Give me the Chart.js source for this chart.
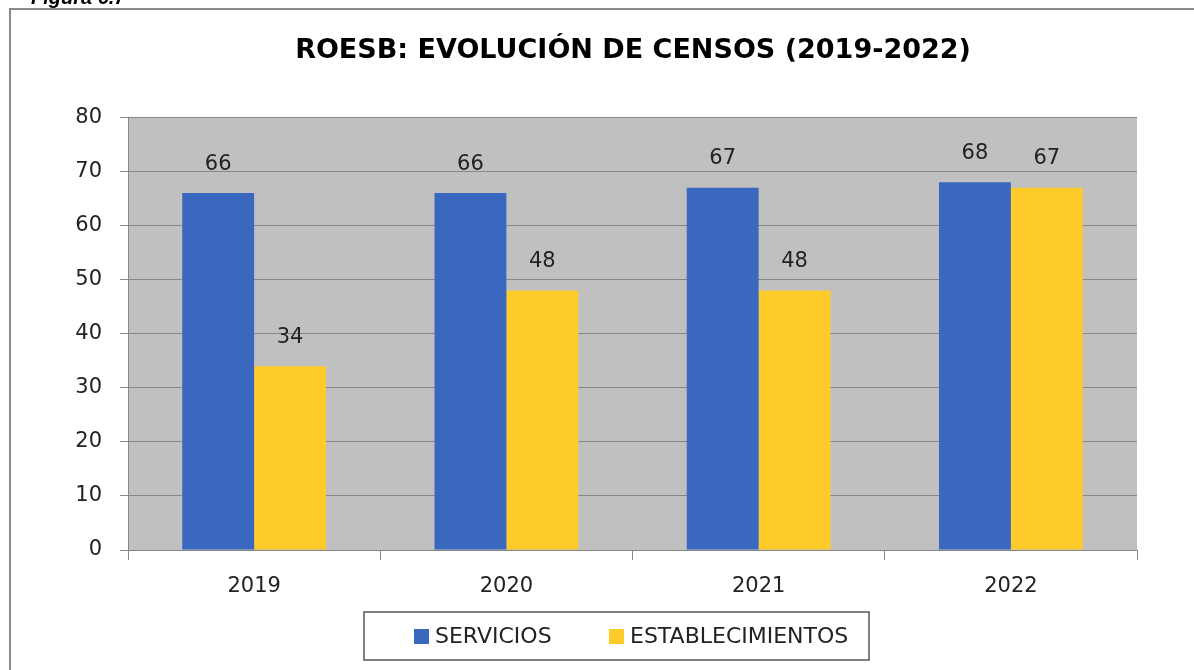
<!DOCTYPE html>
<html>
<head>
<meta charset="utf-8">
<script src="https://cdn.jsdelivr.net/npm/chart.js@4/dist/chart.umd.min.js"></script>
<style>
  html, body { margin: 0; padding: 0; background: #fff; }
  canvas { display: block; }
</style>
</head>
<body>
<canvas id="censosChart" width="1194" height="670"></canvas>
<script>
// Data
const years = ["2019", "2020", "2021", "2022"];
const servicios = [66, 66, 67, 68];
const establecimientos = [34, 48, 48, 67];
const yTicks = [0, 10, 20, 30, 40, 50, 60, 70, 80];

const blue = "#3a68be";
const yellow = "#ffcb2a";
const gridGrey = "#878787";
const textFont = "'DejaVu Sans', sans-serif";

// grey plot area, outer frame and cut-off caption
const backgroundPlugin = {
  id: "background",
  beforeDraw(chart) {
    const ctx = chart.ctx;
    const a = chart.chartArea;
    ctx.save();
    ctx.fillStyle = "#fff";
    ctx.fillRect(0, 0, chart.width, chart.height);
    ctx.fillStyle = "#c0c0c0";
    ctx.fillRect(a.left, a.top, a.right - a.left, a.bottom - a.top);
    // frame around the figure (only top and left edges visible)
    ctx.strokeStyle = "#8a8a8a";
    ctx.lineWidth = 2;
    ctx.beginPath();
    ctx.moveTo(10, chart.height);
    ctx.lineTo(10, 9);
    ctx.lineTo(chart.width, 9);
    ctx.stroke();
    // caption above the frame
    ctx.fillStyle = "#000";
    ctx.font = "italic bold 20px 'Liberation Sans', Arial, sans-serif";
    ctx.textBaseline = "alphabetic";
    ctx.fillText("Figura 6.7", 31, 4);
    ctx.restore();
  }
};

// value labels above the bars
const valueLabels = {
  id: "valueLabels",
  afterDatasetsDraw(chart) {
    const ctx = chart.ctx;
    ctx.save();
    ctx.fillStyle = "#222";
    ctx.font = "21px " + textFont;
    ctx.textAlign = "center";
    ctx.textBaseline = "middle";
    chart.data.datasets.forEach((ds, i) => {
      chart.getDatasetMeta(i).data.forEach((bar, j) => {
        ctx.fillText(ds.data[j], bar.x, bar.y - 29);
      });
    });
    ctx.restore();
  }
};

// boxed legend below the axis
const boxedLegend = {
  id: "boxedLegend",
  afterDraw(chart) {
    const ctx = chart.ctx;
    ctx.save();
    ctx.strokeStyle = "#555";
    ctx.lineWidth = 1.5;
    ctx.strokeRect(364, 612, 505, 48);
    ctx.font = "22px " + textFont;
    ctx.textBaseline = "middle";
    const starts = [414, 609];
    chart.data.datasets.forEach((ds, i) => {
      const x = starts[i];
      ctx.fillStyle = ds.backgroundColor;
      ctx.fillRect(x, 629, 15, 15);
      ctx.fillStyle = "#222";
      ctx.fillText(ds.label, x + 21, 637);
    });
    ctx.restore();
  }
};

const ctx = document.getElementById("censosChart").getContext("2d");

const censosChart = new Chart(ctx, {
  type: "bar",
  data: {
    labels: years,
    datasets: [
      {
        label: "SERVICIOS",
        data: servicios,
        backgroundColor: blue,
        borderWidth: 0,
        categoryPercentage: 0.57,
        barPercentage: 1,
      },
      {
        label: "ESTABLECIMIENTOS",
        data: establecimientos,
        backgroundColor: yellow,
        borderWidth: 0,
        categoryPercentage: 0.57,
        barPercentage: 1,
      },
    ],
  },
  options: {
    responsive: false,
    animation: false,
    devicePixelRatio: 1,
    layout: {
      padding: { left: 72, right: 0, top: 0, bottom: 60 },
    },
    plugins: {
      legend: { display: false },
      tooltip: { enabled: false },
      title: {
        display: true,
        text: "ROESB: EVOLUCIÓN DE CENSOS (2019-2022)",
        color: "#000",
        font: { family: textFont, size: 27, weight: "bold", lineHeight: 1.2 },
        padding: { top: 35, bottom: 50 },
      },
    },
    scales: {
      x: {
        offset: true,
        grid: {
          offset: true,
          drawOnChartArea: false,
          drawTicks: true,
          tickLength: 10,
          color: gridGrey,
        },
        border: { display: true, color: gridGrey, width: 1 },
        ticks: {
          color: "#222",
          font: { family: textFont, size: 21 },
          padding: 14,
        },
        afterFit(scale) {
          scale.height = 60;
        },
      },
      y: {
        min: 0,
        max: 80,
        afterBuildTicks(scale) {
          scale.ticks = yTicks.map((v) => ({ value: v }));
        },
        grid: {
          color: gridGrey,
          tickLength: 8,
        },
        border: { display: true, color: gridGrey, width: 1 },
        ticks: {
          color: "#222",
          font: { family: textFont, size: 21 },
          padding: 18,
        },
        afterFit(scale) {
          scale.width = 56;
        },
      },
      // empty spacer on the right so the plot ends where the original does
      spacer: {
        type: "linear",
        position: "right",
        grid: { display: false },
        border: { display: false },
        ticks: { display: false },
        afterFit(scale) {
          scale.width = 57;
        },
      },
    },
  },
  plugins: [backgroundPlugin, valueLabels, boxedLegend],
});
</script>
</body>
</html>
